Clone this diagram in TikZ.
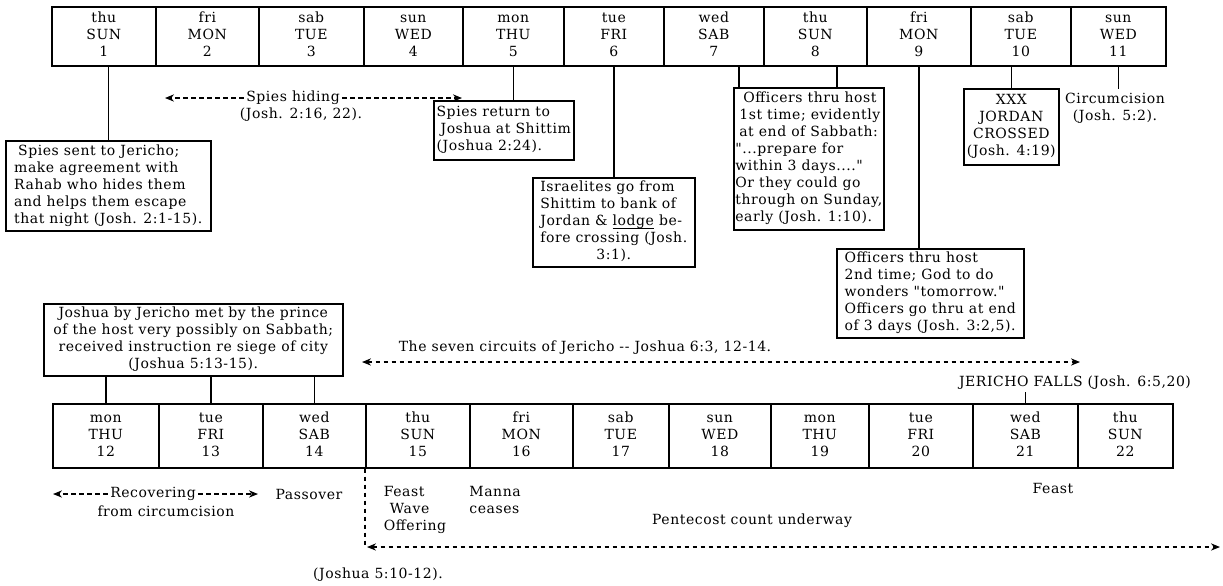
\documentclass[tikz,border=0pt]{standalone}
\usepackage{fontspec}
\setmainfont{DejaVu Serif}[Ligatures=TeXOff, LetterSpace=4]
\usetikzlibrary{arrows.meta,calc}
\newcommand\linesl[1]{\begin{tabular}{@{}l@{}}#1\end{tabular}}
\newcommand\linesc[1]{\begin{tabular}{@{}c@{}}#1\end{tabular}}
\begin{document}
\begin{tikzpicture}[x=0.5pt,y=-0.5pt,
  every node/.style={font=\fontsize{7}{8.5}\selectfont},
  tcell/.style={draw, line width=0.8pt, inner sep=0pt, anchor=north west, minimum height=29.5pt, minimum width=#1},
  bcell/.style={draw, line width=0.8pt, inner sep=0pt, anchor=north west, minimum height=32pt, minimum width=#1},
  note/.style={draw, line width=0.8pt, inner sep=0pt, anchor=north west},
  conn/.style={line width=0.8pt},
  plain/.style={inner sep=1pt},
  dashline/.style={line width=0.55pt, dash pattern=on 2.4pt off 1.6pt},
  tip/.tip={Stealth[length=4.5pt,width=3.6pt]}]
\useasboundingbox (0,0) rectangle (1223,585);
% ---------- top row ----------
\node[tcell=52pt]   (t1)  at (51,6)   {\linesc{thu\\SUN\\1}};
\node[tcell=51.5pt] (t2)  at (155,6)  {\linesc{fri\\MON\\2}};
\node[tcell=52.5pt] (t3)  at (258,6)  {\linesc{sab\\TUE\\3}};
\node[tcell=49.5pt] (t4)  at (363,6)  {\linesc{sun\\WED\\4}};
\node[tcell=50.5pt] (t5)  at (462,6)  {\linesc{mon\\THU\\5}};
\node[tcell=50pt]   (t6)  at (563,6)  {\linesc{tue\\FRI\\6}};
\node[tcell=50pt]   (t7)  at (663,6)  {\linesc{wed\\SAB\\7}};
\node[tcell=51.5pt] (t8)  at (763,6)  {\linesc{thu\\SUN\\8}};
\node[tcell=52pt]   (t9)  at (866,6)  {\linesc{fri\\MON\\9}};
\node[tcell=50pt]   (t10) at (970,6)  {\linesc{sab\\TUE\\10}};
\node[tcell=47.5pt] (t11) at (1070,6) {\linesc{sun\\WED\\11}};
% ---------- top notes ----------
\node[note, minimum width=102.5pt, minimum height=45pt] (a1) at (5,140)
  {\linesl{\hspace*{2pt}Spies sent to Jericho;\\make agreement with\\Rahab who hides them\\and helps them escape\\that night (Josh. 2:1-15).}};
\draw[conn] (a1.north) -- (a1.north |- t1.south);

\node[plain] (sh) at (293,98) {Spies hiding};
\coordinate (shL) at (165,98);
\coordinate (shR) at (462,98);
\draw[dashline,-tip] (sh.west) -- (shL);
\draw[dashline,-tip] (sh.east) -- (shR);
\node[plain] (shref) at (301,115) {(Josh. 2:16, 22).};

\node[note, minimum width=70pt, minimum height=29.5pt] (a2) at (433,100)
  {\linesl{Spies return to\\\hspace*{2pt}Joshua at Shittim\\(Joshua 2:24).}};
\draw[conn] (t5.south) -- (t5.south |- a2.north);

\node[note, minimum width=81pt, minimum height=44.5pt] (a3) at (532,177)
  {\linesl{Israelites go from\\Shittim to bank of\\Jordan \& \underline{\smash{lodge}} be-\\fore crossing (Josh.\\\multicolumn{1}{@{}c@{}}{3:1).}}};
\draw[conn] (t6.south) -- (t6.south |- a3.north);

\node[note, minimum width=75pt, minimum height=71pt] (a4) at (733,87)
  {\linesl{\hspace*{4pt}Officers thru host\\\hspace*{2pt}1st time; evidently\\\hspace*{2pt}at end of Sabbath:\\"...prepare for\\within 3 days...."\\Or they could go\\through on Sunday,\\early (Josh. 1:10).}};
\draw[conn] ([xshift=3pt]a4.north west) -- ([xshift=3pt]a4.north west |- t7.south);
\draw[conn] ([xshift=14pt]a4.north) -- ([xshift=14pt]a4.north |- t8.south);

\node[note, minimum width=93.5pt, minimum height=44.5pt] (a5) at (836,248)
  {\linesl{Officers thru host\\2nd time; God to do\\wonders "tomorrow."\\Officers go thru at end\\of 3 days (Josh. 3:2,5).}};
\draw[conn] (t9.south) -- (t9.south |- a5.north);

\node[note, minimum width=47.5pt, minimum height=38pt] (a6) at (963,88)
  {\linesc{XXX\\JORDAN\\CROSSED\\(Josh. 4:19)}};
\draw[conn] (a6.north) -- (a6.north |- t10.south);

\node[plain, anchor=north] (circ) at (1115,89) {\linesc{Circumcision\\(Josh. 5:2).}};
\draw[conn] (t11.south) -- (t11.south |- circ.north);
% ---------- middle ----------
\node[note, minimum width=149.5pt, minimum height=36pt] (jp) at (43,303)
  {\linesc{Joshua by Jericho met by the prince\\of the host very possibly on Sabbath;\\received instruction re siege of city\\(Joshua 5:13-15).}};

\node[plain] (sev) at (585,348) {The seven circuits of Jericho -- Joshua 6:3, 12-14.};
\coordinate (sevL) at (362,362);
\coordinate (sevR) at (1080,362);
\draw[dashline,tip-tip] (sevL) -- (sevR);

\node[plain] (jf) at (1075,383) {JERICHO FALLS (Josh. 6:5,20)};
% ---------- bottom row ----------
\node[bcell=53pt]   (b12) at (52,403)   {\linesc{mon\\THU\\12}};
\node[bcell=52pt]   (b13) at (158,403)  {\linesc{tue\\FRI\\13}};
\node[bcell=51.5pt] (b14) at (262,403)  {\linesc{wed\\SAB\\14}};
\node[bcell=52pt]   (b15) at (365,403)  {\linesc{thu\\SUN\\15}};
\node[bcell=51.5pt] (b16) at (469,403)  {\linesc{fri\\MON\\16}};
\node[bcell=48pt]   (b17) at (572,403)  {\linesc{sab\\TUE\\17}};
\node[bcell=51pt]   (b18) at (668,403)  {\linesc{sun\\WED\\18}};
\node[bcell=49pt]   (b19) at (770,403)  {\linesc{mon\\THU\\19}};
\node[bcell=52pt]   (b20) at (868,403)  {\linesc{tue\\FRI\\20}};
\node[bcell=52.5pt] (b21) at (972,403)  {\linesc{wed\\SAB\\21}};
\node[bcell=47.5pt] (b22) at (1077,403) {\linesc{thu\\SUN\\22}};

\draw[conn] (b12.north) -- (b12.north |- jp.south);
\draw[conn] (b13.north) -- (b13.north |- jp.south);
\draw[conn] (b14.north) -- (b14.north |- jp.south);
\draw[conn] (b21.north) -- (b21.north |- jf.south);
% ---------- below bottom row ----------
\node[plain] (rec) at (153,494) {Recovering};
\coordinate (recL) at (53,494);
\coordinate (recR) at (258,494);
\draw[dashline,-tip] (rec.west) -- (recL);
\draw[dashline,-tip] (rec.east) -- (recR);
\node[plain] (recsub) at (166,511) {from circumcision};
\node[plain] (pass) at (309,494) {Passover};

\node[plain] (f15) at (415,510) {\linesl{Feast\\\hspace*{3pt}Wave\\Offering}};
\node[plain, anchor=west] (man) at (467,502) {\linesl{Manna\\ceases}};
\node[plain] (f21) at (1053,488) {Feast};
\node[plain] (pent) at (752,521) {Pentecost count underway};

\coordinate (pcL) at (367,547);
\coordinate (pcR) at (1220,547);
\draw[dashline,tip-tip] (pcL) -- (pcR);
\draw[dashline] (b15.south west) -- (b15.south west |- pcL);
\node[plain] (jref) at (378,575) {(Joshua 5:10-12).};
\end{tikzpicture}
\end{document}
